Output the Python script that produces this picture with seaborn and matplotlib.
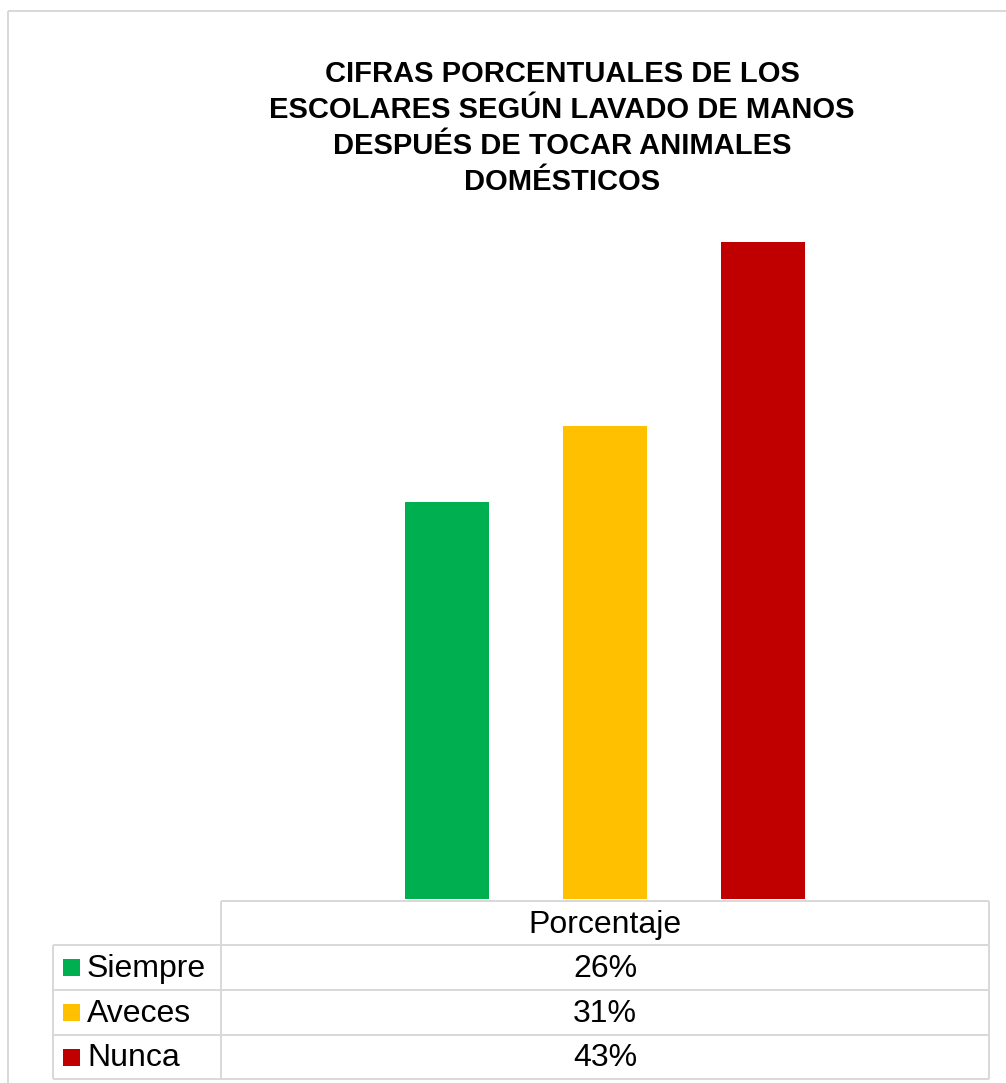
import matplotlib
matplotlib.use("Agg")
import matplotlib.pyplot as plt
from matplotlib.lines import Line2D
from matplotlib.patches import Rectangle
import seaborn as sns
import pandas as pd

# Data
categoria = "Porcentaje"
niveles = ["Siempre", "Aveces", "Nunca"]
valores = [0.26, 0.31, 0.43]
colores = ["#00B050", "#FFC000", "#C00000"]
titulo = ("CIFRAS PORCENTUALES DE LOS\nESCOLARES SEGÚN LAVADO DE MANOS\n"
          "DESPUÉS DE TOCAR ANIMALES\nDOMÉSTICOS")

sns.set_theme(style="white")
plt.rcParams["font.family"] = ["Liberation Sans", "DejaVu Sans"]

W, H = 1006, 1083
fig = plt.figure(figsize=(W / 100, H / 100), dpi=100)

df = pd.DataFrame({"categoria": [categoria] * len(niveles),
                   "nivel": niveles, "valor": valores})

# Plot area in pixel terms: x 221..989, y 214..899
left, right, top, bottom = 221, 989, 214, 899
ax = fig.add_axes([left / W, 1 - bottom / H, (right - left) / W, (bottom - top) / H])
sns.barplot(data=df, x="categoria", y="valor", hue="nivel", palette=colores,
            hue_order=niveles, width=0.617, gap=0.468, saturation=1,
            legend=False, ax=ax, errorbar=None, linewidth=0)
ax.set_xlim(-0.5, 0.5)
ax.set_ylim(0, 0.4485)
ax.set_axis_off()

# Overlay in pixel coordinates for frame, title and data table
ov = fig.add_axes([0, 0, 1, 1], zorder=-1)
ov.set_xlim(0, W)
ov.set_ylim(H, 0)
ov.set_axis_off()
ov.patch.set_alpha(0)

grid = "#D9D9D9"

def hline(x0, x1, y, lw=2):
    ov.add_line(Line2D([x0, x1], [y, y], color=grid, lw=lw * 0.72, solid_capstyle="butt"))

def vline(x, y0, y1, lw=2):
    ov.add_line(Line2D([x, x], [y0, y1], color=grid, lw=lw * 0.72, solid_capstyle="butt"))

# Chart frame
hline(8, W, 11)
vline(8, 11, H)

# Title
fig.text(562 / W, 1 - 128 / H, titulo, ha="center", va="center",
         fontsize=21, fontweight="bold", color="black", linespacing=1.36)

# Data table
x_leg, x_col, x_end = 53, 221, 989
y_rows = [901, 945, 990, 1035, 1079]
hline(x_col, x_end, y_rows[0])
for y in y_rows[1:]:
    hline(x_leg, x_end, y)
vline(x_col, y_rows[0], y_rows[-1])
vline(x_end, y_rows[0], y_rows[-1])
vline(x_leg, y_rows[1], y_rows[-1])

fs = 23
xc = (x_col + x_end) / 2
ov.text(xc, (y_rows[0] + y_rows[1]) / 2 + 1.5, categoria, ha="center", va="center",
        fontsize=fs, color="black")
for i, (nivel, v, c) in enumerate(zip(niveles, valores, colores)):
    yc = (y_rows[i + 1] + y_rows[i + 2]) / 2
    ov.add_patch(Rectangle((63, yc - 8.5), 17, 17, color=c, lw=0))
    ov.text(87, yc + 1.5, nivel, ha="left", va="center", fontsize=fs, color="black")
    ov.text(xc, yc + 1.5, f"{v:.0%}", ha="center", va="center", fontsize=fs, color="black")

fig.savefig("out.png", dpi=100, facecolor="white")
